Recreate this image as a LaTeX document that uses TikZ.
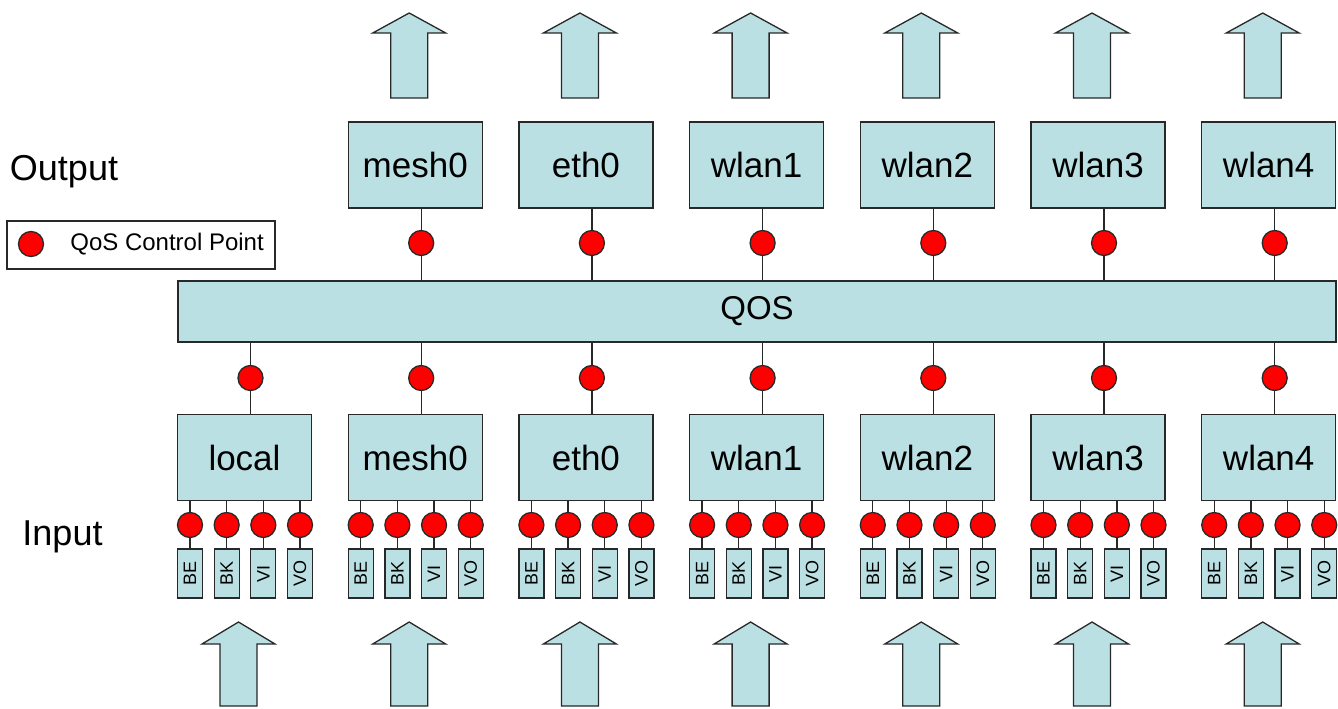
\documentclass[tikz,border=0pt]{standalone}
\usepackage{fontspec}
\setmainfont{Liberation Sans}
\usepackage{xcolor}
\usetikzlibrary{positioning}
\definecolor{ink}{RGB}{0,0,0}
\definecolor{frame}{RGB}{40,40,40}
\definecolor{boxcyan}{RGB}{187,224,227}
\definecolor{qosred}{RGB}{255,0,0}
\tikzset{
  ifbox/.style={draw=frame, fill=boxcyan, minimum width=134pt, minimum height=86pt,
    inner sep=0pt, font=\fontsize{35}{38}\selectfont, text=ink, line width=1.3pt},
  qosbox/.style={draw=frame, fill=boxcyan, minimum width=1158pt, minimum height=61pt,
    inner sep=0pt, font=\fontsize{33}{36}\selectfont, text=ink, line width=1.3pt},
  queue/.style={draw=frame, fill=boxcyan, rotate=90, minimum width=49pt, minimum height=25pt,
    inner sep=0pt, font=\fontsize{18}{19}\selectfont, text=ink, line width=1.3pt},
  cpoint/.style={circle, draw=frame, fill=qosred, minimum size=25pt, inner sep=0pt,
    line width=1.3pt},
  bigarrow/.style={draw=frame, fill=boxcyan, line width=1.3pt, line join=miter},
  link/.style={line width=1.3pt, draw=frame},
  side/.style={font=\fontsize{36}{40}\selectfont, text=ink, anchor=base},
  legbox/.style={draw=frame, fill=white, minimum width=268pt, minimum height=48pt,
    inner sep=0pt, line width=1.3pt},
}
\begin{document}
\begin{tikzpicture}[x=1pt, y=-1pt]
  \useasboundingbox (0,0) rectangle (1338,709);
  \node[qosbox] (qos) at (757,311.5) {QOS};
  % inputs with their four queues
  \foreach \lbl [count=\i from 0] in {local,mesh0,eth0,wlan1,wlan2,wlan3,wlan4} {
    \pgfmathsetmacro{\cx}{244.5+170.7*\i}
    \node[ifbox] (in\i) at (\cx,457.5) {\lbl};
    \node[cpoint] (inq\i) at (\cx+6,378) {};
    \draw[link] (inq\i |- qos.south) -- (inq\i) -- (inq\i |- in\i.north);
    \foreach \k/\qn in {0/BE,1/BK,2/VI,3/VO} {
      \node[cpoint] (qp\i-\k) at (\cx-54.5+36.67*\k,525) {};
      \node[queue] (qb\i-\k) at (\cx-54.5+36.67*\k,573.5) {\qn};
      \draw[link] (qp\i-\k |- in\i.south) -- (qp\i-\k) -- (qb\i-\k);
    }
    \draw[bigarrow] (\cx-6,622) -- ++(36.5,22) -- ++(-18,0) -- ++(0,62) -- ++(-37,0)
      -- ++(0,-62) -- ++(-18,0) -- cycle;
  }
  % outputs
  \foreach \lbl [count=\i from 1] in {mesh0,eth0,wlan1,wlan2,wlan3,wlan4} {
    \pgfmathsetmacro{\cx}{244.5+170.7*\i}
    \node[ifbox] (out\i) at (\cx,165) {\lbl};
    \node[cpoint] (outq\i) at (\cx+6,243) {};
    \draw[link] (outq\i |- out\i.south) -- (outq\i) -- (outq\i |- qos.north);
    \draw[bigarrow] (\cx-6,13) -- ++(36.5,20) -- ++(-18,0) -- ++(0,65) -- ++(-37,0)
      -- ++(0,-65) -- ++(-18,0) -- cycle;
  }
  % labels and legend
  \node[side] (outlbl) at (64,180) {Output};
  \node[side] (inlbl) at (62.5,545) {Input};
  \node[legbox] (legend) at (141,245) {};
  \node[cpoint] (legpt) at (31,244) {};
  \node[font=\fontsize{24}{26}\selectfont, text=ink, anchor=west, inner sep=0pt,
    right=26pt of legpt] (legtxt) {QoS Control Point};
\end{tikzpicture}
\end{document}
